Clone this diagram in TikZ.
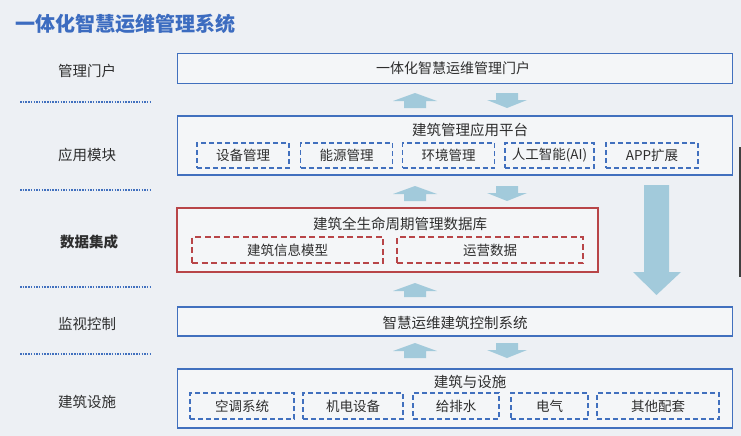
\documentclass[tikz,border=0pt]{standalone}
\usepackage{fontspec}
\setmainfont{Noto Sans CJK SC}
\usetikzlibrary{calc}
\definecolor{bg}{HTML}{EDF0F4}
\definecolor{boxblue}{HTML}{4170BE}
\definecolor{boxred}{HTML}{B84548}
\definecolor{arrowblue}{HTML}{A2CADB}
\definecolor{txt}{HTML}{2E2E2E}
\definecolor{titleblue}{HTML}{3C6CC0}
\tikzset{
  layerbox/.style={draw=boxblue, line width=1.8pt, fill=bg!60!white, inner sep=0pt},
  redbox/.style={draw=boxred, line width=1.4pt, fill=bg!60!white, inner sep=0pt},
  subbox/.style={draw=boxblue, line width=1.6pt, dash pattern=on 5pt off 3pt, inner sep=0pt, font=\fontsize{13.5}{14}\selectfont, text=txt},
  subred/.style={draw=boxred, line width=1.7pt, dash pattern=on 6pt off 3.5pt, inner sep=0pt, font=\fontsize{13.5}{14}\selectfont, text=txt},
  lefttxt/.style={font=\fontsize{14.5}{15}\selectfont, text=txt},
  boxtxt/.style={font=\fontsize{14.5}{15}\selectfont, text=txt},
  sepline/.style={draw=boxblue, line width=2.2pt, dash pattern=on 1.5pt off 1.2pt},
}
\newcommand{\uparrowblk}[3]{% center x, top y, bottom y
  \fill[arrowblue] (#1,#2) -- (#1+22,#2+8) -- (#1+11,#2+8) -- (#1+11,#3) -- (#1-11,#3) -- (#1-11,#2+8) -- (#1-22,#2+8) -- cycle;}
\newcommand{\downarrowblk}[3]{% center x, top y, bottom y
  \fill[arrowblue] (#1-11,#2) -- (#1+11,#2) -- (#1+11,#3-8) -- (#1+20,#3-8) -- (#1,#3) -- (#1-20,#3-8) -- (#1-11,#3-8) -- cycle;}
\begin{document}
\begin{tikzpicture}[x=1pt,y=-1pt]
\fill[bg] (0,0) rectangle (741,436);
\useasboundingbox (0,0) rectangle (741,436);

% title
\node[anchor=west, font=\fontsize{20}{21}\selectfont\bfseries, text=titleblue, inner sep=0pt] (title) at (15,24) {一体化智慧运维管理系统};

% left labels
\node[lefttxt] (l1) at (87,71) {管理门户};
\node[lefttxt] (l2) at (87,155) {应用模块};
\node[lefttxt, font=\fontsize{14.5}{15}\selectfont\bfseries] (l3) at (89,242) {数据集成};
\node[lefttxt] (l4) at (87,324) {监视控制};
\node[lefttxt] (l5) at (87,402) {建筑设施};

% separators
\coordinate (s1a) at (20,102); \coordinate (s1b) at (152,102);
\coordinate (s2a) at (20,190); \coordinate (s2b) at (152,190);
\coordinate (s3a) at (20,287); \coordinate (s3b) at (152,287);
\coordinate (s4a) at (20,354); \coordinate (s4b) at (152,354);
\draw[sepline] (s1a) -- (s1b);
\draw[sepline] (s2a) -- (s2b);
\draw[sepline] (s3a) -- (s3b);
\draw[sepline] (s4a) -- (s4b);

% layer boxes
\node[layerbox, minimum width=555pt, minimum height=30pt] (portal) at (455,68.5) {};
\node[boxtxt, font=\fontsize{14}{15}\selectfont] (portaltxt) at (453,68.5) {一体化智慧运维管理门户};

\node[layerbox, minimum width=555pt, minimum height=59pt] (app) at (455,145.5) {};
\node[boxtxt] (apptxt) at (470,129.5) {建筑管理应用平台};
\node[subbox, minimum width=92pt, minimum height=25pt] (a1) at (243,155.5) {设备管理};
\node[subbox, minimum width=92pt, minimum height=25pt] (a2) at (346.5,155.5) {能源管理};
\node[subbox, minimum width=92pt, minimum height=25pt] (a3) at (448.5,155.5) {环境管理};
\node[subbox, minimum width=89pt, minimum height=25pt] (a4) at (549.5,155.5) {人工智能(AI)};
\node[subbox, minimum width=92pt, minimum height=25pt] (a5) at (652,155.5) {APP扩展};

\node[redbox, minimum width=421pt, minimum height=64pt] (data) at (387.5,240) {};
\node[boxtxt] (datatxt) at (400,223.5) {建筑全生命周期管理数据库};
\node[subred, minimum width=191pt, minimum height=26pt] (d1) at (287.5,250) {建筑信息模型};
\node[subred, minimum width=186pt, minimum height=26pt] (d2) at (490,250) {运营数据};

\node[layerbox, minimum width=555pt, minimum height=29pt] (ctrl) at (455,321.5) {};
\node[boxtxt] (ctrltxt) at (455,322.5) {智慧运维建筑控制系统};

\node[layerbox, minimum width=555pt, minimum height=59pt] (fac) at (455,398.5) {};
\node[boxtxt] (factxt) at (470,382) {建筑与设施};
\node[subbox, minimum width=104pt, minimum height=26pt] (f1) at (242,406) {空调系统};
\node[subbox, minimum width=100pt, minimum height=26pt] (f2) at (353,406) {机电设备};
\node[subbox, minimum width=86pt, minimum height=26pt] (f3) at (456,406) {给排水};
\node[subbox, minimum width=77pt, minimum height=26pt] (f4) at (549.5,406) {电气};
\node[subbox, minimum width=122pt, minimum height=26pt] (f5) at (658,406) {其他配套};

% block arrows between layers
\uparrowblk{415}{93}{108}
\downarrowblk{507}{93}{108}
\uparrowblk{415}{186}{201}
\downarrowblk{507}{186}{201}
\uparrowblk{415}{283}{297}
\uparrowblk{415}{343}{358}
\downarrowblk{507}{343}{358}

% big down arrow
\fill[arrowblue] (644,185) -- (669,185) -- (669,272) -- (681,272) -- (656.5,295) -- (633,272) -- (644,272) -- cycle;

% stray dark edge bar
\coordinate (bara) at (739.5,147); \coordinate (barb) at (739.5,277);
\draw[line width=2pt, color=black!75] (bara) -- (barb);
\end{tikzpicture}
\end{document}
